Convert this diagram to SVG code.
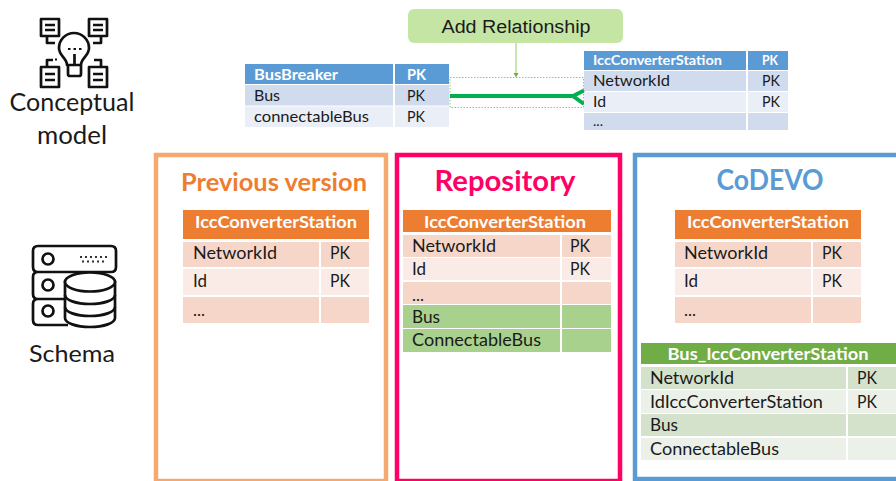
<svg xmlns="http://www.w3.org/2000/svg" width="896" height="481" viewBox="0 0 896 481">
<style>
text{font-family:"Lato","Open Sans",sans-serif;fill:#1a1a1a;font-size:17px}
.b{font-weight:700;fill:#fff}
.i{fill:none;stroke:#111;stroke-width:2.700;stroke-linejoin:round}
.ib{fill:#fff;stroke:#111;stroke-width:2.700}
.bh{fill:#5b9bd5}.b1{fill:#d0dcee}.b2{fill:#e9eef7}
.oh{fill:#ed7d31}.o1{fill:#f7d6ca}.o2{fill:#fbebe6}
.gh{fill:#70ad47}.g1{fill:#d4e2cc}.g2{fill:#ebf0e8}.gs{fill:#a9d18e}
.frame{fill:#fff;stroke-width:4.5}
.m{text-anchor:middle}
</style>
<rect width="896" height="481" fill="#fff"/>

<g id="conceptual-icon">
<path class="i" d="M41 19h18v17H41zM45 25h10M45 30h10M47 36v7h8M89 19h18v17H89zM93 25h10M93 30h10M101 36v7h-8M41 67h18v20H41zM45 74h10M45 80h10M47 67v-7h6M89 67h18v20H89zM93 74h10M93 80h10M101 67v-7h-7"/>
<path class="i" d="M67 65c0-7-8-9-8-17a15 15 0 0 1 30 0c0 8-8 10-8 17zM68 65v9q0 2 2 2h9q2 0 2-2v-9M74.500 54v11"/>
<path d="M68 49h2.500M73.500 49h2.500M79 49h2.500M55 59.500h2" stroke="#111" stroke-width="2"/>
<text x="72" y="111" class="m" style="font-size:25px" textLength="125" lengthAdjust="spacingAndGlyphs">Conceptual</text>
<text x="72" y="144" class="m" style="font-size:25px" textLength="70" lengthAdjust="spacingAndGlyphs">model</text>
</g>

<g id="schema-icon">
<path class="i" d="M38 246h73q5 0 5 5v16q0 5-5 5H38q-5 0-5-5v-16q0-5 5-5zM70 272H38q-5 0-5 5v17q0 5 5 5h28M66 299H38q-5 0-5 5v16q0 5 5 5h30"/>
<circle class="i" cx="48" cy="259" r="5.500"/><circle class="i" cx="48" cy="285" r="5.500"/><circle class="i" cx="48" cy="311" r="5.500"/>
<path d="M80 257h27M82 261.500h25" stroke="#333" stroke-width="2.200" stroke-dasharray="2 3"/>
<path class="ib" d="M65 282v36c0 5 11 9 25 9s25-4 25-9v-36z"/>
<ellipse class="ib" cx="90" cy="282" rx="25" ry="9.500"/>
<path class="i" d="M65 295c0 5 11 9 25 9s25-4 25-9M65 307c0 5 11 9 25 9s25-4 25-9"/>
<text x="72" y="362" class="m" style="font-size:23px" textLength="86" lengthAdjust="spacingAndGlyphs">Schema</text>
</g>

<g id="add-relationship">
<rect x="408" y="9" width="215" height="34" rx="6" fill="#c5e5a5"/>
<text x="516" y="33" class="m" style="font-family:'Liberation Sans',sans-serif;font-size:18px" textLength="149" lengthAdjust="spacingAndGlyphs">Add Relationship</text>
</g>

<g id="connectors">
<rect x="450" y="77.500" width="133.500" height="30" fill="#fff" stroke="#8fce5a" stroke-width="1" stroke-dasharray="1.500 1.500"/>
<path d="M516 43v32" stroke="#a5d67c" stroke-width="1.200" fill="none"/>
<path d="M513.500 73h5l-2.500 4.500z" fill="#70ad47"/>
<path d="M450 96H574M584 90.500 573 96l11 8" stroke="#00b050" stroke-width="4" fill="none"/>
</g>

<g id="table-busbreaker">
<rect class="bh" x="245" y="64" width="148" height="20"/><rect class="bh" x="395" y="64" width="54" height="20"/>
<rect class="b1" x="245" y="85" width="148" height="20.500"/><rect class="b1" x="395" y="85" width="54" height="20.500"/>
<rect class="b2" x="245" y="106.500" width="148" height="20.500"/><rect class="b2" x="395" y="106.500" width="54" height="20.500"/>
<text class="b" x="254" y="80" style="font-size:15px" textLength="84" lengthAdjust="spacingAndGlyphs">BusBreaker</text><text class="b" x="407" y="80" style="font-size:15px" textLength="19" lengthAdjust="spacingAndGlyphs">PK</text>
<text x="254" y="101" style="font-size:15px" textLength="26" lengthAdjust="spacingAndGlyphs">Bus</text><text x="407" y="101" style="font-size:15px" textLength="18" lengthAdjust="spacingAndGlyphs">PK</text>
<text x="254" y="122" style="font-size:15px" textLength="115" lengthAdjust="spacingAndGlyphs">connectableBus</text><text x="407" y="122" style="font-size:15px" textLength="18" lengthAdjust="spacingAndGlyphs">PK</text>
</g>

<g id="table-icc-top">
<rect class="bh" x="584" y="51" width="162" height="19"/><rect class="bh" x="748" y="51" width="40" height="19"/>
<rect class="b1" x="584" y="71" width="162" height="20"/><rect class="b1" x="748" y="71" width="40" height="20"/>
<rect class="b2" x="584" y="92" width="162" height="20"/><rect class="b2" x="748" y="92" width="40" height="20"/>
<rect class="b1" x="584" y="113" width="162" height="17"/><rect class="b1" x="748" y="113" width="40" height="17"/>
<text class="b" x="593" y="65" style="font-size:13.500px" textLength="129" lengthAdjust="spacingAndGlyphs">IccConverterStation</text><text class="b" x="762" y="65" style="font-size:13.500px" textLength="16" lengthAdjust="spacingAndGlyphs">PK</text>
<text x="593" y="86" style="font-size:15.500px" textLength="77" lengthAdjust="spacingAndGlyphs">NetworkId</text><text x="762" y="86" style="font-size:15.500px" textLength="18" lengthAdjust="spacingAndGlyphs">PK</text>
<text x="593" y="107" style="font-size:15.500px" textLength="13" lengthAdjust="spacingAndGlyphs">Id</text><text x="762" y="107" style="font-size:15.500px" textLength="18" lengthAdjust="spacingAndGlyphs">PK</text>
<text x="593" y="126" style="font-size:13px" textLength="10" lengthAdjust="spacingAndGlyphs">...</text>
</g>

<g id="previous-version">
<rect class="frame" x="156" y="155" width="230" height="326" stroke="#f4a971"/>
<text x="274" y="191" class="m" style="font-size:24px;font-weight:700;fill:#ed7d31" textLength="186" lengthAdjust="spacingAndGlyphs">Previous version</text>
<rect class="oh" x="183" y="210" width="186" height="29"/>
<rect class="o1" x="183" y="242" width="136" height="25"/><rect class="o1" x="321" y="242" width="48" height="25"/>
<rect class="o2" x="183" y="269" width="136" height="26"/><rect class="o2" x="321" y="269" width="48" height="26"/>
<rect class="o1" x="183" y="297" width="136" height="26"/><rect class="o1" x="321" y="297" width="48" height="26"/>
<text class="b m" x="276" y="228" style="font-size:17px" textLength="162" lengthAdjust="spacingAndGlyphs">IccConverterStation</text>
<text x="193" y="259" textLength="84" lengthAdjust="spacingAndGlyphs">NetworkId</text><text x="330" y="259" textLength="20" lengthAdjust="spacingAndGlyphs">PK</text>
<text x="193" y="287" textLength="14" lengthAdjust="spacingAndGlyphs">Id</text><text x="330" y="287" textLength="20" lengthAdjust="spacingAndGlyphs">PK</text>
<text x="193" y="316" textLength="12" lengthAdjust="spacingAndGlyphs">...</text>
</g>

<g id="repository">
<rect class="frame" x="397" y="155" width="223" height="326" stroke="#ff0066"/>
<text x="505" y="191" class="m" style="font-size:28px;font-weight:700;fill:#ff0066" textLength="141" lengthAdjust="spacingAndGlyphs">Repository</text>
<rect class="oh" x="403" y="210" width="208" height="22"/>
<rect class="o1" x="403" y="235" width="157" height="22"/><rect class="o1" x="562" y="235" width="49" height="22"/>
<rect class="o2" x="403" y="258" width="157" height="22"/><rect class="o2" x="562" y="258" width="49" height="22"/>
<rect class="o1" x="403" y="282" width="157" height="22"/><rect class="o1" x="562" y="282" width="49" height="22"/>
<rect class="gs" x="403" y="305" width="157" height="23"/><rect class="gs" x="562" y="305" width="49" height="23"/>
<rect class="gs" x="403" y="329" width="157" height="23"/><rect class="gs" x="562" y="329" width="49" height="23"/>
<text class="b m" x="505" y="228" style="font-size:17px" textLength="162" lengthAdjust="spacingAndGlyphs">IccConverterStation</text>
<text x="412" y="252" textLength="84" lengthAdjust="spacingAndGlyphs">NetworkId</text><text x="570" y="252" textLength="20" lengthAdjust="spacingAndGlyphs">PK</text>
<text x="412" y="275" textLength="14" lengthAdjust="spacingAndGlyphs">Id</text><text x="570" y="275" textLength="20" lengthAdjust="spacingAndGlyphs">PK</text>
<text x="412" y="301" textLength="12" lengthAdjust="spacingAndGlyphs">...</text>
<text x="412" y="323" textLength="28" lengthAdjust="spacingAndGlyphs">Bus</text>
<text x="412" y="346" textLength="129" lengthAdjust="spacingAndGlyphs">ConnectableBus</text>
</g>

<g id="codevo">
<rect class="frame" x="635" y="155" width="270" height="324" stroke="#5b9bd5"/>
<text x="770" y="190" class="m" style="font-size:28px;font-weight:700;fill:#5b9bd5" textLength="107" lengthAdjust="spacingAndGlyphs">CoDEVO</text>
<rect class="oh" x="675" y="210" width="186" height="29"/>
<rect class="o1" x="675" y="242" width="136" height="25"/><rect class="o1" x="813" y="242" width="48" height="25"/>
<rect class="o2" x="675" y="269" width="136" height="26"/><rect class="o2" x="813" y="269" width="48" height="26"/>
<rect class="o1" x="675" y="297" width="136" height="26"/><rect class="o1" x="813" y="297" width="48" height="26"/>
<text class="b m" x="768" y="228" style="font-size:17px" textLength="162" lengthAdjust="spacingAndGlyphs">IccConverterStation</text>
<text x="684" y="259" textLength="84" lengthAdjust="spacingAndGlyphs">NetworkId</text><text x="822" y="259" textLength="20" lengthAdjust="spacingAndGlyphs">PK</text>
<text x="684" y="287" textLength="14" lengthAdjust="spacingAndGlyphs">Id</text><text x="822" y="287" textLength="20" lengthAdjust="spacingAndGlyphs">PK</text>
<text x="684" y="316" textLength="12" lengthAdjust="spacingAndGlyphs">...</text>
<rect class="gh" x="641" y="343" width="255" height="21"/>
<rect class="g1" x="641" y="367" width="205" height="22"/><rect class="g1" x="848" y="367" width="48" height="22"/>
<rect class="g2" x="641" y="390" width="205" height="23"/><rect class="g2" x="848" y="390" width="48" height="23"/>
<rect class="g1" x="641" y="414" width="205" height="22"/><rect class="g1" x="848" y="414" width="48" height="22"/>
<rect class="g2" x="641" y="438" width="205" height="22"/><rect class="g2" x="848" y="438" width="48" height="22"/>
<text class="b m" x="768" y="360" style="font-size:17px" textLength="201" lengthAdjust="spacingAndGlyphs">Bus_IccConverterStation</text>
<text x="650" y="384" textLength="84" lengthAdjust="spacingAndGlyphs">NetworkId</text><text x="857" y="384" textLength="20" lengthAdjust="spacingAndGlyphs">PK</text>
<text x="650" y="408" textLength="173" lengthAdjust="spacingAndGlyphs">IdIccConverterStation</text><text x="857" y="408" textLength="20" lengthAdjust="spacingAndGlyphs">PK</text>
<text x="650" y="431" textLength="28" lengthAdjust="spacingAndGlyphs">Bus</text>
<text x="650" y="455" textLength="129" lengthAdjust="spacingAndGlyphs">ConnectableBus</text>
</g>
</svg>
